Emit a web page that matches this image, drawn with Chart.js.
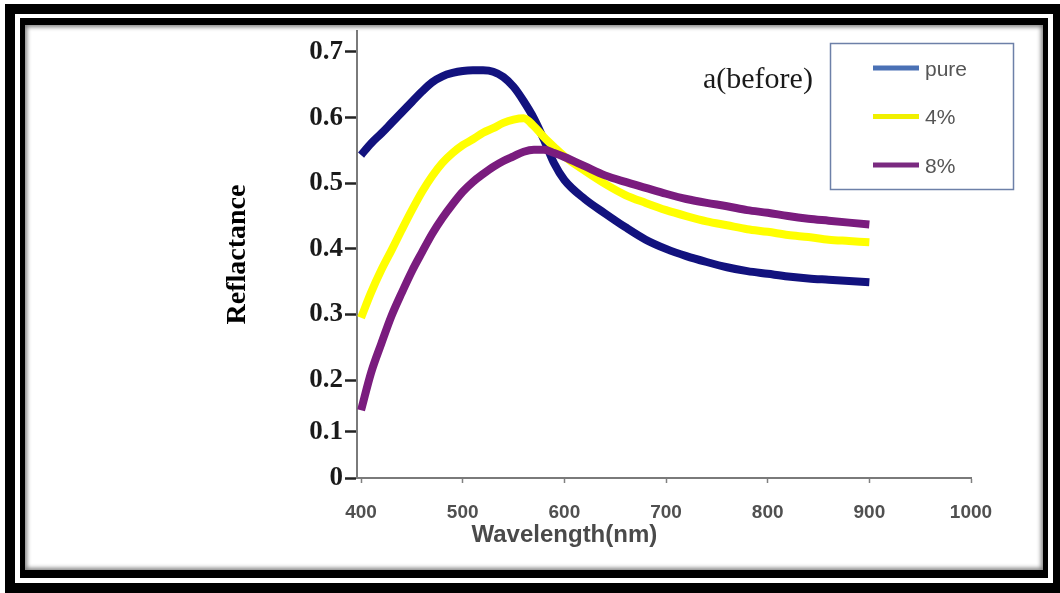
<!DOCTYPE html>
<html>
<head>
<meta charset="utf-8">
<script src="https://cdn.jsdelivr.net/npm/chart.js@4.4.1/dist/chart.umd.min.js"></script>
<style>
  html, body { margin: 0; padding: 0; background: #fff; overflow: hidden; }
  #wrap { position: relative; width: 1060px; height: 593px; }
  #wrap canvas { position: absolute; left: 0; top: 0; }
  .frame-outer { position: absolute; left: 5px; top: 4px; width: 1038px; height: 569px; border: 10px solid #000; }
  .frame-inner { position: absolute; left: 20px; top: 18px; width: 1018px; height: 545px;
                 border-style: solid; border-color: #000; border-width: 7px 5px 8px 5px;
                 box-shadow: inset 0 0 4px 2px rgba(0,0,0,0.5); }
</style>
</head>
<body>
<div id="wrap">
  <canvas id="chart" width="1060" height="593"></canvas>
  <div class="frame-outer"></div>
  <div class="frame-inner"></div>
</div>
<script>
// Wavelength grid (nm)
const wavelengths = [400, 410, 420, 430, 440, 450, 460, 470, 480, 490, 500, 510, 520, 530, 540, 550,
                     560, 570, 580, 590, 600, 620, 640, 660, 680, 700, 720, 740, 760, 780, 800, 820,
                     840, 860, 880, 900];

// Reflectance of each sample
const purePure = [0.543, 0.561, 0.576, 0.592, 0.608, 0.624, 0.640, 0.654, 0.663, 0.668, 0.671, 0.672,
                  0.672, 0.670, 0.662, 0.647, 0.625, 0.599, 0.566, 0.530, 0.505, 0.476, 0.454, 0.433,
                  0.414, 0.400, 0.389, 0.380, 0.372, 0.366, 0.362, 0.358, 0.355, 0.353, 0.351, 0.349];
const doped4 = [0.295, 0.334, 0.368, 0.398, 0.429, 0.459, 0.487, 0.511, 0.531, 0.546, 0.558, 0.567,
                0.577, 0.584, 0.592, 0.597, 0.599, 0.587, 0.570, 0.555, 0.541, 0.519, 0.499, 0.482,
                0.470, 0.459, 0.450, 0.442, 0.436, 0.430, 0.426, 0.421, 0.418, 0.414, 0.412, 0.410];
const doped8 = [0.142, 0.212, 0.256, 0.298, 0.333, 0.366, 0.395, 0.423, 0.447, 0.468, 0.487, 0.502,
                0.514, 0.525, 0.534, 0.541, 0.548, 0.551, 0.551, 0.546, 0.540, 0.526, 0.512, 0.502,
                0.493, 0.484, 0.476, 0.470, 0.465, 0.459, 0.455, 0.450, 0.446, 0.443, 0.440, 0.437];

const seriesLabels = ['pure', '4%', '8%'];
const seriesValues = [purePure, doped4, doped8];

// Axis ticks
const xTicks = [400, 500, 600, 700, 800, 900, 1000];
const yTicks = [0, 0.1, 0.2, 0.3, 0.4, 0.5, 0.6, 0.7];

// Styling
const lineColors = ['#12127e', '#ffff00', '#7a1c7e'];
const legendColors = ['#4a71b5', '#f0f000', '#7a2a80'];
const serif = '"Liberation Serif", "Times New Roman", serif';
const sans = '"Liberation Sans", Arial, sans-serif';

// The reflectance axis is compressed below 0.2: [value, fraction of axis height]
const Y_KNOTS = [[0, 0], [0.1, 0.103], [0.2, 0.219], [0.732, 1]];

class PiecewiseLinearScale extends Chart.LinearScale {
  static id = 'piecewiseLinear';
  static defaults = Chart.LinearScale.defaults;

  _valueToDecimal(v) {
    const k = Y_KNOTS;
    let i = 1;
    while (i < k.length - 1 && v > k[i][0]) i++;
    const [v0, d0] = k[i - 1];
    const [v1, d1] = k[i];
    return d0 + (v - v0) / (v1 - v0) * (d1 - d0);
  }
  _decimalToValue(d) {
    const k = Y_KNOTS;
    let i = 1;
    while (i < k.length - 1 && d > k[i][1]) i++;
    const [v0, d0] = k[i - 1];
    const [v1, d1] = k[i];
    return v0 + (d - d0) / (d1 - d0) * (v1 - v0);
  }
  getPixelForValue(value) {
    return value === null ? NaN : this.getPixelForDecimal(this._valueToDecimal(value));
  }
  getValueForPixel(pixel) {
    return this._decimalToValue(this.getDecimalForPixel(pixel));
  }
}
Chart.register(PiecewiseLinearScale);

// Legend box, panel tag and wavelength title
const overlayText = {
  id: 'overlayText',
  afterDraw(chart) {
    const ctx = chart.ctx;
    const xs = chart.scales.x;
    ctx.save();
    ctx.strokeStyle = '#6d80a8';
    ctx.lineWidth = 1.5;
    ctx.strokeRect(830.5, 43.5, 183, 146);
    ctx.textAlign = 'left';
    ctx.textBaseline = 'middle';
    ctx.font = '21px ' + sans;
    chart.data.datasets.forEach((ds, i) => {
      const y = 68 + i * 48.5;
      ctx.strokeStyle = legendColors[i];
      ctx.lineWidth = 5;
      ctx.beginPath();
      ctx.moveTo(873, y);
      ctx.lineTo(919, y);
      ctx.stroke();
      ctx.fillStyle = '#555';
      ctx.fillText(ds.label, 925, y + 2);
    });
    ctx.font = '30px ' + serif;
    ctx.fillStyle = '#1a1a1a';
    ctx.fillText('a(before)', 703, 80);
    ctx.font = 'bold 24px ' + sans;
    ctx.fillStyle = '#4a4a4a';
    ctx.textAlign = 'center';
    ctx.fillText('Wavelength(nm)', xs.getPixelForValue(600), 535);
    ctx.restore();
  }
};

new Chart(document.getElementById('chart'), {
  type: 'line',
  data: {
    datasets: seriesLabels.map((label, i) => ({
      label,
      data: wavelengths.map((w, j) => ({ x: w, y: seriesValues[i][j] })),
      borderColor: lineColors[i],
      backgroundColor: lineColors[i],
      borderWidth: 8,
      pointRadius: 0,
      cubicInterpolationMode: 'monotone',
      order: 2 - i
    }))
  },
  options: {
    responsive: false,
    animation: false,
    devicePixelRatio: 1,
    layout: { padding: { left: 200, right: 89, top: 31, bottom: 0 } },
    plugins: { legend: { display: false }, tooltip: { enabled: false } },
    scales: {
      x: {
        type: 'linear',
        min: 396,
        max: 1000,
        afterBuildTicks: s => { s.ticks = xTicks.map(v => ({ value: v })); },
        afterFit: s => { s.height = 115; },
        grid: { drawOnChartArea: false, drawTicks: true, tickLength: 5, tickColor: '#808080', tickWidth: 1.5 },
        border: { display: true, color: '#7a7a7a', width: 2 },
        ticks: { font: { family: sans, size: 19, weight: 'bold' }, color: '#505050', padding: 18,
                 maxRotation: 0, autoSkip: false, callback: v => String(v) }
      },
      y: {
        type: 'piecewiseLinear',
        min: 0,
        max: 0.732,
        afterBuildTicks: s => { s.ticks = yTicks.map(v => ({ value: v })); },
        afterFit: s => { s.width = 157; },
        grid: { drawOnChartArea: false, drawTicks: true, tickLength: 12, tickColor: '#222', tickWidth: 2.5 },
        border: { display: true, color: '#7a7a7a', width: 2 },
        ticks: { font: { family: serif, size: 27, weight: 'bold' }, color: '#1a1a1a', padding: 2,
                 callback: v => (v === 0 ? '0' : v.toFixed(1)) },
        title: { display: true, text: 'Reflactance', color: '#000',
                 font: { family: serif, size: 28, weight: 'bold' }, padding: { top: 21, bottom: 0 } }
      }
    }
  },
  plugins: [overlayText]
});
</script>
</body>
</html>
